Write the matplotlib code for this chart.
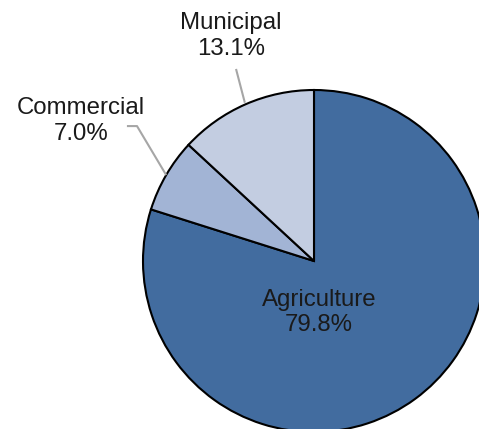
import numpy as np
import matplotlib.pyplot as plt

categories = ["Agriculture", "Commercial", "Municipal"]
shares = [79.8, 7.0, 13.1]
colors = ["#426C9F", "#A2B4D5", "#C3CDE1"]

plt.rcParams["font.family"] = ["Liberation Sans", "DejaVu Sans"]

fig = plt.figure(figsize=(4.79, 4.29), dpi=100)
ax = fig.add_axes([0, 0, 1, 1])

wedges, _ = ax.pie(shares, colors=colors, startangle=90, counterclock=False,
                   radius=1.0, center=(0, 0),
                   wedgeprops=dict(edgecolor="black", linewidth=1.5))

# centre sits at pixel (314, 261), 171 px per unit radius
s = 171.0
ax.set_xlim(-314 / s, (479 - 314) / s)
ax.set_ylim(-(429 - 261) / s, 261 / s)
ax.set_aspect("equal")
ax.axis("off")

def mid_point(w, r=1.0):
    a = np.deg2rad((w.theta1 + w.theta2) / 2)
    return r * np.cos(a), r * np.sin(a)

labels = [f"{c}\n{v:.1f}%" for c, v in zip(categories, shares)]
fs = 17.3
ls = 1.2

# Agriculture label inside the slice
ax.text(0.03, -0.30, labels[0], ha="center", va="center", fontsize=fs,
        linespacing=ls, color="#1a1a1a")

# Commercial label with elbow leader
ax.text(-1.363, 0.819, labels[1], ha="center", va="center", fontsize=fs,
        linespacing=ls, color="#1a1a1a")
mx, my = mid_point(wedges[1], 1.0)
ax.plot([-1.094, -1.035, mx], [0.789, 0.789, my], color="#A6A6A6", lw=1.5,
        solid_capstyle="butt")

# Municipal label with straight leader
ax.text(-0.485, 1.316, labels[2], ha="center", va="center", fontsize=fs,
        linespacing=ls, color="#1a1a1a")
mx, my = mid_point(wedges[2], 1.01)
ax.plot([-0.456, mx], [1.123, my], color="#A6A6A6", lw=1.5,
        solid_capstyle="butt")

fig.savefig("out.png", dpi=100)
